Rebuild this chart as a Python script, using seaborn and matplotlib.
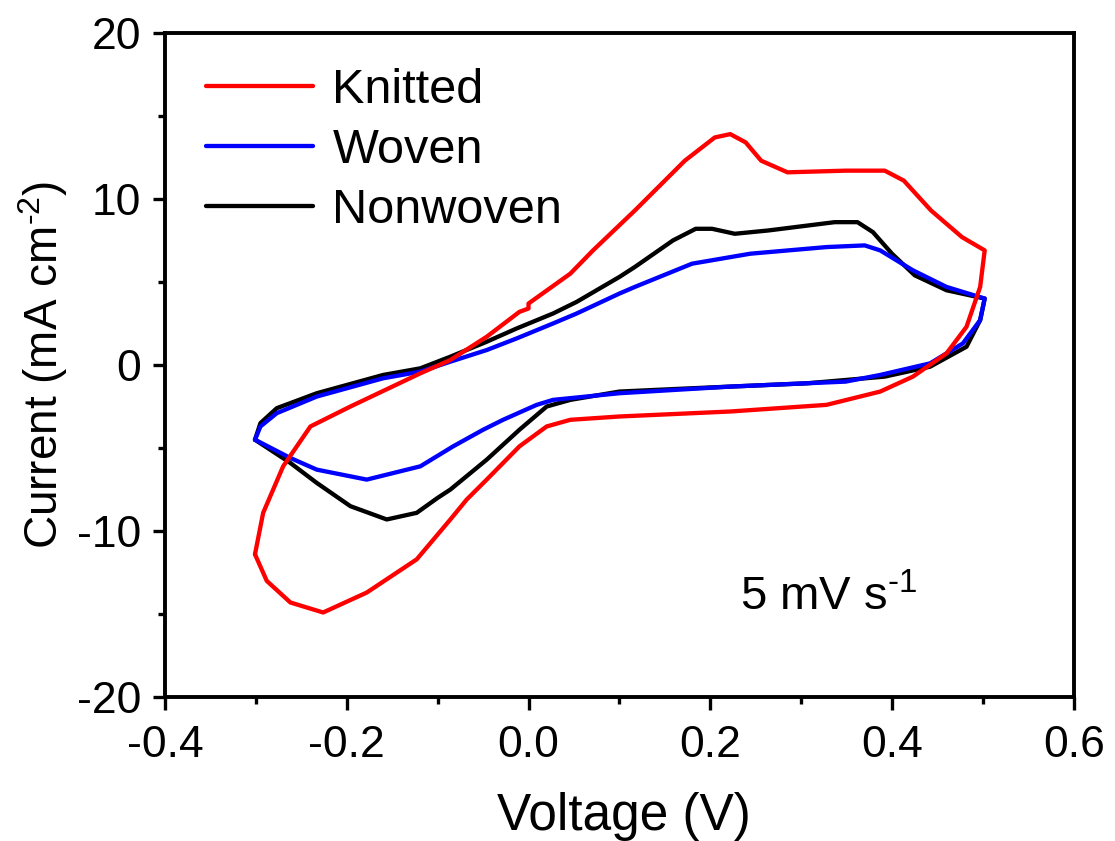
import numpy as np
import pandas as pd
import matplotlib
matplotlib.use("Agg")
import matplotlib.pyplot as plt
import seaborn as sns
from matplotlib.ticker import MultipleLocator

### CV curves (V, mA cm-2), each loop starts at the left vertex
knit_v = [-0.301, -0.292, -0.270, -0.240, -0.196, -0.119, -0.086, -0.046, -0.010, 0.000,
          0.000, 0.046, 0.071, 0.117, 0.172, 0.205, 0.222, 0.239, 0.256, 0.285, 0.349,
          0.392, 0.413, 0.443, 0.477, 0.502,
          0.497, 0.482, 0.460, 0.423, 0.387, 0.328, 0.222, 0.100, 0.046, 0.020, -0.010,
          -0.046, -0.068, -0.086, -0.123, -0.178, -0.226, -0.262, -0.288, -0.301]
knit_i = [-11.4, -8.9, -6.1, -3.7, -2.5, -0.5, 0.3, 1.7, 3.2, 3.4,
          3.7, 5.5, 6.9, 9.3, 12.3, 13.7, 13.9, 13.4, 12.3, 11.6, 11.7,
          11.7, 11.1, 9.3, 7.7, 6.9,
          4.7, 2.3, 0.7, -0.7, -1.6, -2.4, -2.8, -3.1, -3.3, -3.7, -4.9,
          -6.9, -8.1, -9.3, -11.7, -13.7, -14.9, -14.3, -13.0, -11.4]

woven_v = [-0.301, -0.295, -0.277, -0.233, -0.160, -0.119, -0.086, -0.046, -0.013, 0.027,
           0.053, 0.100, 0.117, 0.180, 0.244, 0.328, 0.370, 0.387, 0.423, 0.460, 0.502,
           0.497, 0.478, 0.442, 0.387, 0.349, 0.222, 0.100, 0.027, 0.009, -0.028,
           -0.050, -0.083, -0.119, -0.178, -0.233, -0.262, -0.301]
woven_i = [-4.5, -3.7, -2.9, -1.9, -0.8, -0.4, 0.2, 0.9, 1.6, 2.5,
           3.1, 4.3, 4.7, 6.1, 6.7, 7.1, 7.2, 6.9, 5.7, 4.7, 4.0,
           2.7, 1.3, 0.1, -0.6, -1.0, -1.3, -1.7, -2.1, -2.4, -3.3,
           -3.9, -4.9, -6.1, -6.9, -6.3, -5.6, -4.5]

nonwoven_v = [-0.301, -0.295, -0.277, -0.233, -0.160, -0.119, -0.086, -0.046, -0.013, 0.027,
              0.053, 0.100, 0.117, 0.159, 0.184, 0.202, 0.227, 0.264, 0.337, 0.362, 0.379,
              0.400, 0.425, 0.460, 0.502,
              0.497, 0.482, 0.442, 0.392, 0.307, 0.180, 0.100, 0.046, 0.020, -0.010,
              -0.046, -0.086, -0.100, -0.123, -0.156, -0.196, -0.233, -0.262, -0.301]
nonwoven_i = [-4.5, -3.5, -2.6, -1.7, -0.6, -0.2, 0.5, 1.4, 2.2, 3.1,
              3.8, 5.3, 5.9, 7.5, 8.2, 8.2, 7.9, 8.1, 8.6, 8.6, 8.0,
              6.7, 5.4, 4.5, 4.0,
              2.7, 1.1, -0.1, -0.7, -1.1, -1.4, -1.6, -2.1, -2.5, -3.9,
              -5.7, -7.5, -8.0, -8.9, -9.3, -8.5, -7.1, -5.9, -4.5]

labels = ["Knitted", "Woven", "Nonwoven"]
colors = {"Knitted": "#ff0000", "Woven": "#0000ff", "Nonwoven": "#000000"}
curves = {"Knitted": (knit_v, knit_i),
          "Woven": (woven_v, woven_i),
          "Nonwoven": (nonwoven_v, nonwoven_i)}

sns.set_style("white")
plt.rcParams['font.family'] = ['Liberation Sans', 'DejaVu Sans']
plt.rcParams['mathtext.fontset'] = 'custom'
plt.rcParams['mathtext.rm'] = 'Liberation Sans'
plt.rcParams['mathtext.it'] = 'Liberation Sans'
plt.rcParams['text.color'] = 'black'
plt.rcParams['axes.labelcolor'] = 'black'
plt.rcParams['xtick.color'] = 'black'
plt.rcParams['ytick.color'] = 'black'

fig = plt.figure(figsize=(11.15, 8.41), dpi=100)
ax = fig.add_axes([0.148, 0.171, 0.815, 0.790])

# draw black first, red on top (as in the original)
for name in ["Nonwoven", "Woven", "Knitted"]:
    v, i = curves[name]
    df = pd.DataFrame({"V": v, "I": i})
    sns.lineplot(data=df, x="V", y="I", sort=False, estimator=None, color=colors[name],
                 linewidth=3.1, label=name, ax=ax)

ax.set_xlim(-0.4, 0.6)
ax.set_ylim(-20, 20)
ax.xaxis.set_major_locator(MultipleLocator(0.2))
ax.xaxis.set_minor_locator(MultipleLocator(0.1))
ax.yaxis.set_major_locator(MultipleLocator(10))
ax.yaxis.set_minor_locator(MultipleLocator(5))
ax.xaxis.set_major_formatter(plt.FuncFormatter(lambda x, p: f"{x:.1f}"))
ax.yaxis.set_major_formatter(plt.FuncFormatter(lambda y, p: f"{y:.0f}"))

for s in ax.spines.values():
    s.set_linewidth(2.8)
    s.set_color("black")
ax.tick_params(axis="both", which="major", direction="out", length=9, width=2.4,
               labelsize=32, pad=8, bottom=True, left=True, top=False, right=False)
ax.tick_params(axis="x", which="major", pad=11)
ax.tick_params(axis="both", which="minor", direction="out", length=5, width=2.4,
               bottom=True, left=True, top=False, right=False)

ax.set_xlabel("Voltage (V)", fontsize=37)
ax.set_ylabel(r"Current (mA cm$^{\text{-2}}$)", fontsize=33)
ax.xaxis.set_label_coords(0.505, -0.143)
ax.yaxis.set_label_coords(-0.105, 0.5)

ax.text(0.233, -14.0, r"5 mV s$^{\text{-1}}$", fontsize=34, va="center", ha="left")

handles, labs = ax.get_legend_handles_labels()
order = [labs.index(n) for n in labels]
leg = ax.legend([handles[k] for k in order], [labs[k] for k in order],
                loc="upper left", bbox_to_anchor=(0.045, 0.947), frameon=False,
                fontsize=35, handlelength=2.2, handletextpad=0.4, labelspacing=0.31,
                borderpad=0, borderaxespad=0)
for ln in leg.get_lines():
    ln.set_linewidth(3.1)

fig.savefig("out.png", dpi=100)
